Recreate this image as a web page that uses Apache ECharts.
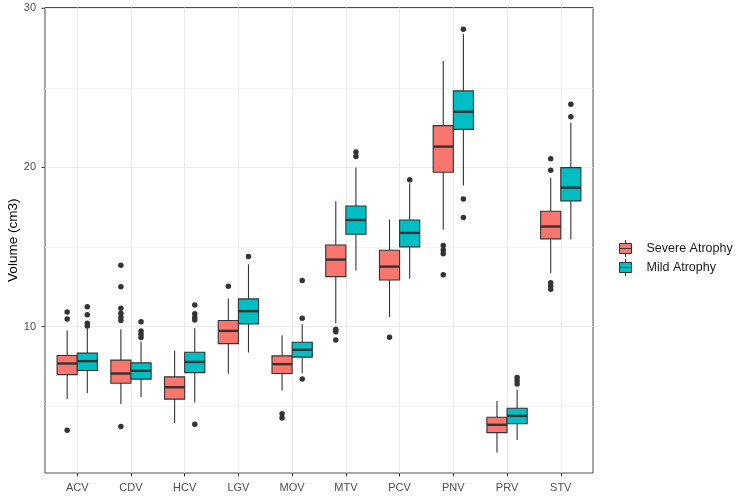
<!DOCTYPE html>
<html><head><meta charset="utf-8">
<script src="https://cdn.jsdelivr.net/npm/echarts@6/dist/echarts.min.js"></script>
<style>html,body{margin:0;padding:0;background:#fff}#c{width:737px;height:497px}</style>
</head><body><div id="c"></div>
<script>
const categories = ['ACV','CDV','HCV','LGV','MOV','MTV','PCV','PNV','PRV','STV'];
const seriesNames = ['Severe Atrophy','Mild Atrophy'];
const yTickValues = [10, 20, 30];
const yMinorValues = [5, 15, 25];

// Severe Atrophy
const severeLow    = [5.44, 5.14, 3.93, 7.03, 5.98, 10.21, 10.61, 16.09, 2.09, 13.35];
const severeQ1     = [6.98, 6.44, 5.44, 8.93, 7.05, 13.14, 12.93, 19.70, 3.34, 15.51];
const severeMedian = [7.68, 7.05, 6.19, 9.73, 7.64, 14.21, 13.77, 21.31, 3.83, 16.29];
const severeQ3     = [8.18, 7.89, 6.84, 10.38, 8.16, 15.13, 14.80, 22.63, 4.30, 17.25];
const severeHigh   = [9.75, 9.84, 8.49, 11.76, 9.46, 17.88, 16.72, 26.69, 5.33, 19.34];
const severeOutliers = [
  [10.92, 10.48, 3.49],
  [13.85, 12.51, 11.16, 10.84, 10.59, 10.38, 3.72],
  [],
  [12.54],
  [4.52, 4.25],
  [9.84, 9.67, 9.16],
  [9.33],
  [15.09, 14.82, 14.57, 13.25],
  [],
  [20.55, 19.82, 12.76, 12.55, 12.35]
];

// Mild Atrophy
const mildLow    = [5.82, 5.57, 5.23, 8.37, 7.07, 13.52, 13.00, 18.87, 2.88, 15.49];
const mildQ1     = [7.24, 6.70, 7.11, 10.17, 8.08, 15.80, 15.01, 22.39, 3.89, 17.90];
const mildMedian = [7.83, 7.22, 7.78, 10.97, 8.54, 16.70, 15.89, 23.50, 4.39, 18.73];
const mildQ3     = [8.33, 7.72, 8.39, 11.74, 9.02, 17.58, 16.70, 24.81, 4.87, 19.99];
const mildHigh   = [9.90, 9.06, 9.90, 13.92, 10.15, 19.99, 19.01, 28.39, 6.02, 22.81];
const mildOutliers = [
  [11.24, 10.75, 10.21, 10.04],
  [10.31, 9.73, 9.52, 9.31],
  [11.36, 10.80, 10.57, 10.42, 3.87],
  [14.40],
  [12.89, 10.53, 6.70],
  [20.97, 20.68],
  [19.23],
  [28.69, 18.01, 16.85],
  [6.80, 6.60, 6.40],
  [23.97, 23.19]
];

const RED = '#F8766D', TEAL = '#00BFC4', INK = '#333333';
const DODGE = 0.1875, BOXW = 0.375;
const X_MIN = -0.6, X_MAX = 9.6;
const FONT = '"Liberation Sans", Arial, sans-serif';

function boxData(lo, q1, med, q3, hi, off) {
  return categories.map((c, i) => [i + off, lo[i], q1[i], med[i], q3[i], hi[i]]);
}
function outData(outs, off) {
  const r = [];
  outs.forEach((arr, i) => arr.forEach(v => r.push([i + off, v])));
  return r;
}
function renderBox(color) {
  return function (params, api) {
    const x = api.value(0);
    const pLo = api.coord([x, api.value(1)]);
    const pQ1 = api.coord([x, api.value(2)]);
    const pMed = api.coord([x, api.value(3)]);
    const pQ3 = api.coord([x, api.value(4)]);
    const pHi = api.coord([x, api.value(5)]);
    const w = api.size([BOXW, 0])[0];
    const cx = pMed[0];
    return {
      type: 'group',
      children: [
        { type: 'line', shape: { x1: cx, y1: pHi[1], x2: cx, y2: pQ3[1] }, style: { stroke: INK, lineWidth: 1.1 } },
        { type: 'line', shape: { x1: cx, y1: pQ1[1], x2: cx, y2: pLo[1] }, style: { stroke: INK, lineWidth: 1.1 } },
        { type: 'rect', shape: { x: cx - w / 2, y: pQ3[1], width: w, height: pQ1[1] - pQ3[1] }, style: { fill: color, stroke: INK, lineWidth: 1.1 } },
        { type: 'line', shape: { x1: cx - w / 2, y1: pMed[1], x2: cx + w / 2, y2: pMed[1] }, style: { stroke: INK, lineWidth: 2.4 } }
      ]
    };
  };
}
function renderYTick(params, api) {
  const p = api.coord([X_MIN, api.value(0)]);
  return { type: 'line', shape: { x1: p[0] - 3.5, y1: p[1], x2: p[0], y2: p[1] }, style: { stroke: INK, lineWidth: 1 } };
}

const gridLines = [];
yMinorValues.forEach(v => gridLines.push({ yAxis: v, lineStyle: { color: '#F0F0F0', width: 0.8, type: 'solid' } }));
yTickValues.forEach(v => gridLines.push({ yAxis: v, lineStyle: { color: '#EBEBEB', width: 1, type: 'solid' } }));
categories.forEach((c, i) => gridLines.push({ xAxis: i, lineStyle: { color: '#EBEBEB', width: 1, type: 'solid' } }));

const legendIcon = 'path://M6,0 L6,3.5 M0,3.5 L12,3.5 L12,13.5 L0,13.5 Z M0,8.5 L12,8.5 M6,13.5 L6,17';

const chart = echarts.init(document.getElementById('c'));
chart.setOption({
  animation: false,
  backgroundColor: '#ffffff',
  textStyle: { fontFamily: FONT },
  grid: { left: 45, right: 144, top: 7.5, bottom: 24, containLabel: false, outerBoundsMode: 'none', show: true, borderColor: '#4d4d4d', borderWidth: 1, backgroundColor: 'transparent' },
  legend: {
    orient: 'vertical', left: 614, top: 234.5,
    itemWidth: 32, itemHeight: 17, itemGap: 1,
    symbolKeepAspect: true,
    textStyle: { fontFamily: FONT, fontSize: 12.5, color: '#1a1a1a', padding: [0, 0, 0, 0] },
    data: [
      { name: seriesNames[0], icon: legendIcon, itemStyle: { color: RED, borderColor: INK, borderWidth: 1 } },
      { name: seriesNames[1], icon: legendIcon, itemStyle: { color: TEAL, borderColor: INK, borderWidth: 1 } }
    ]
  },
  xAxis: {
    type: 'value', min: X_MIN, max: X_MAX,
    axisLine: { show: false },
    splitLine: { show: false },
    axisTick: { show: true, inside: false, length: 3.5, lineStyle: { color: INK }, customValues: categories.map((c, i) => i) },
    axisLabel: { customValues: categories.map((c, i) => i), formatter: v => categories[Math.round(v)], color: '#4D4D4D', fontSize: 11, margin: 9.5, fontFamily: FONT }
  },
  yAxis: {
    type: 'value', min: 0.8, max: 30.05,
    name: 'Volume (cm3)', nameLocation: 'middle', nameGap: 25, nameMoveOverlap: false,
    nameTextStyle: { color: '#000', fontSize: 13.5, fontFamily: FONT },
    axisLine: { show: false },
    splitLine: { show: false },
    axisTick: { show: false },
    axisLabel: { customValues: yTickValues, color: '#4D4D4D', fontSize: 11, margin: 9, fontFamily: FONT }
  },
  series: [
    {
      type: 'line', data: [], silent: true, z: 0,
      markLine: { silent: true, z: 0, symbol: 'none', label: { show: false }, animation: false, data: gridLines }
    },
    {
      type: 'custom', silent: true, z: 2, clip: false, renderItem: renderYTick,
      data: yTickValues.map(v => [v]), encode: { y: 0 }
    },
    {
      name: seriesNames[0], type: 'custom', z: 3, itemStyle: { color: RED },
      renderItem: renderBox(RED), data: boxData(severeLow, severeQ1, severeMedian, severeQ3, severeHigh, -DODGE),
      encode: { x: 0, y: [1, 2, 3, 4, 5] }
    },
    {
      name: seriesNames[1], type: 'custom', z: 3, itemStyle: { color: TEAL },
      renderItem: renderBox(TEAL), data: boxData(mildLow, mildQ1, mildMedian, mildQ3, mildHigh, DODGE),
      encode: { x: 0, y: [1, 2, 3, 4, 5] }
    },
    {
      name: seriesNames[0], type: 'scatter', z: 4, symbolSize: 5.5, itemStyle: { color: INK, opacity: 1 },
      data: outData(severeOutliers, -DODGE)
    },
    {
      name: seriesNames[1], type: 'scatter', z: 4, symbolSize: 5.5, itemStyle: { color: INK, opacity: 1 },
      data: outData(mildOutliers, DODGE)
    }
  ]
});
</script>
</body></html>
